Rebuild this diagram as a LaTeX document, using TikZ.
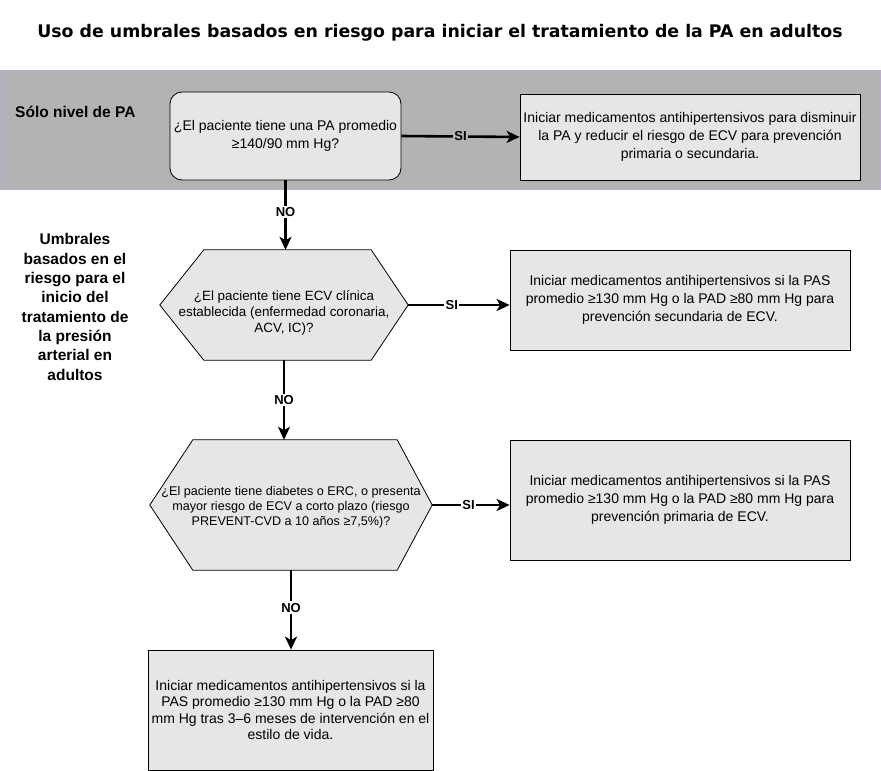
\documentclass[tikz,border=0pt]{standalone}
\usepackage{fontspec}
\setmainfont{Liberation Sans}
\newfontfamily\titlefont{DejaVu Sans}
\usetikzlibrary{arrows.meta,backgrounds}
\definecolor{bandgray}{RGB}{179,179,179}
\definecolor{bandedge}{RGB}{190,170,215}
\definecolor{boxgray}{RGB}{230,230,230}
\begin{document}
\begin{tikzpicture}[x=1pt,y=-1pt,
  box/.style={draw=black, fill=boxgray, line width=0.8pt, align=center,
    font=\fontsize{14}{17.8}\selectfont, inner sep=2pt},
  hexbox/.style={inner sep=0pt},
  hextext/.style={align=center, font=\fontsize{12.6}{15.2}\selectfont, inner sep=0pt},
  hexline/.style={draw=black, fill=boxgray, line width=0.8pt},
  side/.style={align=center, font=\bfseries\fontsize{15.5}{19.3}\selectfont},
  conn/.style={line width=2.6pt, -{Stealth[length=13pt,width=12pt,inset=3.5pt]}},
  lab/.style={font=\bfseries\fontsize{13}{14}\selectfont, inner sep=1.5pt, fill=white}
]
\useasboundingbox (0,0) rectangle (881,771);
% title
\node[font=\titlefont\bfseries\fontsize{17.35}{20}\selectfont] (title) at (440,33)
  {Uso de umbrales basados en riesgo para iniciar el tratamiento de la PA en adultos};
% band
\draw[fill=bandgray, draw=bandedge, line width=1pt] (0,70) rectangle (880,189);
\node[font=\bfseries\fontsize{15.5}{18}\selectfont, anchor=west, inner sep=0pt] (solo) at (15,112) {Sólo nivel de PA};
% side label
\node[side] (umb) at (75,307) {Umbrales\\basados en el\\riesgo para el\\inicio del\\tratamiento de\\la presión\\arterial en\\adultos};
% nodes
\node[box, rounded corners=12pt, minimum width=231pt, minimum height=88pt] (b1) at (285.5,136)
  {¿El paciente tiene una PA promedio\\≥140/90 mm Hg?};
\node[box, minimum width=340pt, minimum height=86pt] (r1) at (690,137)
  {Iniciar medicamentos antihipertensivos para disminuir\\la PA y reducir el riesgo de ECV para prevención\\primaria o secundaria.};
\node[hexbox, minimum width=248pt, minimum height=110pt] (h1) at (284,305) {};
\node[box, minimum width=340pt, minimum height=100pt] (r2) at (680,300)
  {Iniciar medicamentos antihipertensivos si la PAS\\promedio ≥130 mm Hg o la PAD ≥80 mm Hg para\\prevención secundaria de ECV.};
\node[hexbox, minimum width=282pt, minimum height=130pt] (h2) at (291,505) {};
\node[box, minimum width=340pt, minimum height=120pt] (r3) at (680,500)
  {Iniciar medicamentos antihipertensivos si la PAS\\promedio ≥130 mm Hg o la PAD ≥80 mm Hg para\\prevención primaria de ECV.};
\node[box, minimum width=285pt, minimum height=120pt, font=\fontsize{14}{16.6}\selectfont] (bb) at (290.5,710)
  {Iniciar medicamentos antihipertensivos si la\\PAS promedio ≥130 mm Hg o la PAD ≥80\\mm Hg tras 3–6 meses de intervención en el\\estilo de vida.};
% hexagon outlines
\path[hexline] (h1.west) -- ([xshift=44pt]h1.north west) -- ([xshift=-37pt]h1.north east)
  -- (h1.east) -- ([xshift=-37pt]h1.south east) -- ([xshift=44pt]h1.south west) -- cycle;
\path[hexline] (h2.west) -- ([xshift=43pt]h2.north west) -- ([xshift=-35pt]h2.north east)
  -- (h2.east) -- ([xshift=-35pt]h2.south east) -- ([xshift=43pt]h2.south west) -- cycle;
% hexagon texts
\node[hextext, font=\fontsize{13.4}{16}\selectfont] (h1t) at ([yshift=-8pt]h1.center)
  {¿El paciente tiene ECV clínica\\establecida (enfermedad coronaria,\\ACV, IC)?};
\node[hextext] (h2t) at ([yshift=-2pt]h2.center)
  {¿El paciente tiene diabetes o ERC, o presenta\\mayor riesgo de ECV a corto plazo (riesgo\\PREVENT-CVD a 10 años ≥7,5\%)?};
% connectors
\draw[conn] (b1.east) -- node[lab, fill=bandgray, pos=0.5] {SI} (r1.west);
\draw[conn] (b1.south) -- node[lab, pos=0.45] {NO} (b1.south |- h1.north);
\draw[conn] (h1.east) -- node[lab, pos=0.43] {SI} (h1.east -| r2.west);
\draw[conn] (h1.south) -- node[lab, pos=0.5] {NO} (h1.south |- h2.north);
\draw[conn] (h2.east) -- node[lab, pos=0.47] {SI} (h2.east -| r3.west);
\draw[conn] (h2.south) -- node[lab, pos=0.47] {NO} (h2.south |- bb.north);
\end{tikzpicture}
\end{document}
